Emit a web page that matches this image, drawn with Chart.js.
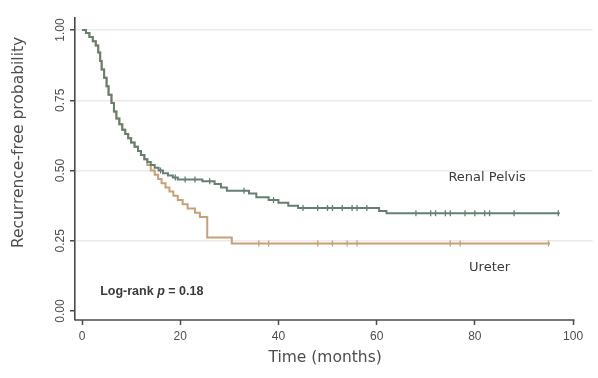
<!DOCTYPE html>
<html>
<head>
<meta charset="utf-8">
<script src="https://cdn.jsdelivr.net/npm/chart.js@4/dist/chart.umd.min.js"></script>
<style>
  html, body { margin: 0; padding: 0; background: #fff; }
  #wrap { width: 598px; height: 378px; position: relative; }
  canvas { filter: blur(0.4px); }
</style>
</head>
<body>
<div id="wrap"><canvas id="km"></canvas></div>
<script>
// Kaplan-Meier steps: time (months) / survival
var renalTimes = [0, 0.8, 1.5, 2.2, 2.8, 3.3, 3.7, 4.0, 4.5, 5.0, 5.4, 6.0, 6.5, 7.0, 7.6, 8.2, 8.8, 9.4, 10.0, 10.7, 11.4, 12.0, 12.7, 13.3, 14.0, 14.8, 15.6, 16.5, 17.5, 18.5, 19.5, 24.5, 27.0, 28.3, 29.5, 34.0, 35.5, 38.0, 40.0, 42.0, 44.0, 60.5, 62.0, 97.3];
var renalSurv  = [1.0, 0.99, 0.975, 0.96, 0.945, 0.92, 0.89, 0.86, 0.83, 0.80, 0.77, 0.74, 0.71, 0.685, 0.665, 0.645, 0.63, 0.615, 0.60, 0.585, 0.57, 0.555, 0.54, 0.53, 0.52, 0.51, 0.50, 0.49, 0.482, 0.475, 0.468, 0.462, 0.452, 0.44, 0.428, 0.418, 0.405, 0.395, 0.385, 0.375, 0.367, 0.356, 0.348, 0.348];
var renalCensor = [16, 19, 21, 23, 26, 33, 39, 45, 48, 50, 51, 53, 55, 56, 58, 68, 71, 72, 74, 75, 78, 80, 82, 83, 88, 97];

var ureterTimes = [0, 0.8, 1.5, 2.2, 2.8, 3.3, 3.7, 4.0, 4.5, 5.0, 5.4, 6.0, 6.5, 7.0, 7.6, 8.2, 8.8, 9.4, 10.0, 10.7, 11.4, 12.0, 12.7, 13.3, 14.0, 14.8, 15.5, 16.2, 17.0, 17.8, 18.6, 19.5, 20.5, 21.5, 23.0, 24.0, 25.5, 30.5, 95.3];
var ureterSurv  = [1.0, 0.99, 0.975, 0.96, 0.945, 0.92, 0.89, 0.86, 0.83, 0.80, 0.77, 0.74, 0.71, 0.685, 0.665, 0.645, 0.63, 0.615, 0.60, 0.585, 0.57, 0.555, 0.54, 0.52, 0.50, 0.485, 0.47, 0.455, 0.44, 0.425, 0.41, 0.395, 0.38, 0.365, 0.35, 0.335, 0.262, 0.24, 0.24];
var ureterCensor = [36, 38, 48, 51, 54, 56, 75, 77, 95];

var xTicks = [0, 20, 40, 60, 80, 100];
var yTicks = [0, 0.25, 0.5, 0.75, 1];

var renalColor = '#667f70';
var ureterColor = '#c8a077';
var axisColor = '#4a4a4a';
var textColor = '#4d4d4d';
var titleFont = '"DejaVu Sans", Verdana, sans-serif';
var tickFont = '"Liberation Sans", Arial, sans-serif';

function steps(times, surv) {
  return times.map(function (t, i) { return { x: t, y: surv[i] }; });
}

// y of a censor tick = curve value at that time
function survAt(times, surv, t) {
  var v = surv[0];
  for (var i = 0; i < times.length; i++) {
    if (times[i] <= t) v = surv[i];
  }
  return v;
}

function censorPoints(cens, times, surv) {
  return cens.map(function (t) { return { x: t, y: survAt(times, surv, t) }; });
}

var labelsPlugin = {
  id: 'kmLabels',
  afterDraw: function (chart) {
    var ctx = chart.ctx;
    var xs = chart.scales.x, ys = chart.scales.y;
    var area = chart.chartArea;
    ctx.save();

    // x axis line stops at the last tick, like the original
    ctx.strokeStyle = axisColor;
    ctx.lineWidth = 1.6;
    ctx.beginPath();
    ctx.moveTo(area.left, area.bottom);
    ctx.lineTo(xs.getPixelForValue(100.3), area.bottom);
    ctx.stroke();

    // rotated y tick labels
    ctx.fillStyle = textColor;
    ctx.font = '12px ' + tickFont;
    ctx.textAlign = 'center';
    ctx.textBaseline = 'middle';
    yTicks.forEach(function (v) {
      ctx.save();
      ctx.translate(area.left - 14, ys.getPixelForValue(v));
      ctx.rotate(-Math.PI / 2);
      ctx.fillText(v.toFixed(2), 0, 0);
      ctx.restore();
    });

    // axis titles
    ctx.font = '15.5px ' + titleFont;
    ctx.save();
    ctx.translate(19, ys.getPixelForValue(0.6));
    ctx.rotate(-Math.PI / 2);
    ctx.fillText('Recurrence-free probability', 0, 0);
    ctx.restore();
    ctx.fillText('Time (months)', xs.getPixelForValue(49.5), 358);

    // curve labels
    ctx.fillStyle = '#3a3a3a';
    ctx.font = '13px ' + titleFont;
    ctx.fillText('Renal Pelvis', xs.getPixelForValue(82.5), ys.getPixelForValue(0.475));
    ctx.fillText('Ureter', xs.getPixelForValue(83), ys.getPixelForValue(0.155));

    // log-rank note
    ctx.textAlign = 'left';
    ctx.font = 'bold 12.5px ' + tickFont;
    var lx = xs.getPixelForValue(3.7), ly = ys.getPixelForValue(0.07);
    var a = 'Log-rank ';
    ctx.fillText(a, lx, ly);
    lx += ctx.measureText(a).width;
    ctx.font = 'italic bold 12.5px ' + tickFont;
    ctx.fillText('p', lx, ly);
    lx += ctx.measureText('p ').width;
    ctx.font = 'bold 12.5px ' + tickFont;
    ctx.fillText('= 0.18', lx, ly);

    ctx.restore();
  }
};

new Chart(document.getElementById('km'), {
  type: 'line',
  data: {
    datasets: [
      {
        label: 'Renal Pelvis',
        data: steps(renalTimes, renalSurv),
        borderColor: renalColor,
        borderWidth: 2,
        stepped: true,
        pointRadius: 0,
        fill: false,
      },
      {
        type: 'scatter',
        label: 'Renal censored',
        data: censorPoints(renalCensor, renalTimes, renalSurv),
        pointStyle: 'line',
        rotation: 90,
        pointRadius: 3,
        borderColor: renalColor,
        borderWidth: 1.3,
      },
      {
        label: 'Ureter',
        data: steps(ureterTimes, ureterSurv),
        borderColor: ureterColor,
        borderWidth: 2,
        stepped: true,
        pointRadius: 0,
        fill: false,
      },
      {
        type: 'scatter',
        label: 'Ureter censored',
        data: censorPoints(ureterCensor, ureterTimes, ureterSurv),
        pointStyle: 'line',
        rotation: 90,
        pointRadius: 3,
        borderColor: ureterColor,
        borderWidth: 1.3,
      },
    ],
  },
  options: {
    responsive: true,
    maintainAspectRatio: false,
    animation: false,
    layout: { padding: { top: 18, right: 0, left: 0, bottom: 0 } },
    plugins: { legend: { display: false }, tooltip: { enabled: false } },
    scales: {
      x: {
        type: 'linear',
        min: -1.43,
        max: 104,
        afterBuildTicks: function (s) {
          s.ticks = xTicks.map(function (v) { return { value: v }; });
        },
        afterFit: function (s) { s.height = 58; },
        border: { display: false },
        grid: { drawOnChartArea: false, tickLength: 5, tickColor: axisColor, tickWidth: 1.5 },
        ticks: {
          color: textColor,
          padding: 4,
          font: { family: tickFont, size: 12 },
        },
      },
      y: {
        type: 'linear',
        min: -0.032,
        max: 1.043,
        afterBuildTicks: function (s) {
          s.ticks = yTicks.map(function (v) { return { value: v }; });
        },
        afterFit: function (s) { s.width = 75; },
        border: { display: true, color: axisColor, width: 1.6 },
        grid: {
          color: function (c) { return c.tick && c.tick.value === 0 ? 'rgba(0,0,0,0)' : '#ebebeb'; },
          lineWidth: 1.5,
          tickLength: 5,
          tickColor: axisColor,
          tickWidth: 1.5,
        },
        ticks: { display: false },
      },
    },
  },
  plugins: [labelsPlugin],
});
</script>
</body>
</html>
